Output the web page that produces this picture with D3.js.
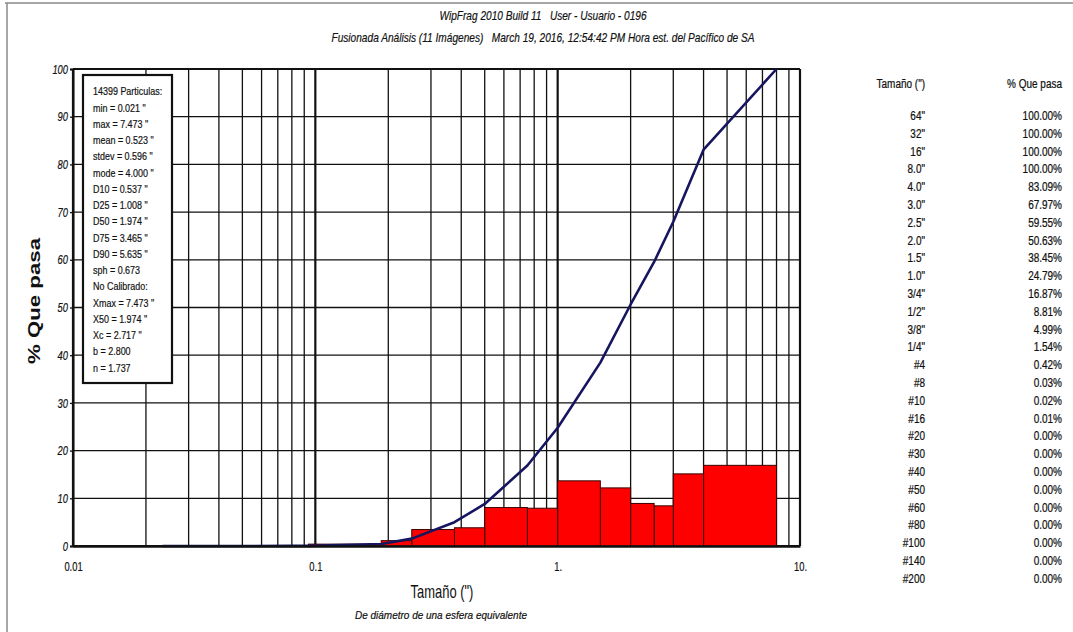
<!DOCTYPE html>
<html>
<head>
<meta charset="utf-8">
<script src="https://cdn.jsdelivr.net/npm/d3@7"></script>
<style>
  body { margin: 0; background: #fff; }
  svg { display: block; }
  text { white-space: pre; }
</style>
</head>
<body>
<svg id="chart" width="1073" height="632"></svg>
<script>
// Sieve sizes (inches) with their cumulative percent passing
const sieveLabels = ['64"', '32"', '16"', '8.0"', '4.0"', '3.0"', '2.5"', '2.0"', '1.5"', '1.0"',
  '3/4"', '1/2"', '3/8"', '1/4"', '#4', '#8', '#10', '#16', '#20', '#30', '#40', '#50', '#60',
  '#80', '#100', '#140', '#200'];
const sieveSizes = [64, 32, 16, 8, 4, 3, 2.5, 2, 1.5, 1, 0.75, 0.5, 0.375, 0.25, 0.187,
  0.0937, 0.0787, 0.0469, 0.0331, 0.0234, 0.0165, 0.0117, 0.0098, 0.0070, 0.0059, 0.0041, 0.0029];
const percentPassing = [100, 100, 100, 100, 83.09, 67.97, 59.55, 50.63, 38.45, 24.79, 16.87,
  8.81, 4.99, 1.54, 0.42, 0.03, 0.02, 0.01, 0, 0, 0, 0, 0, 0, 0, 0, 0];

// Smallest measured particle (inches); curve and histogram start above it
const minParticle = 0.021;

const statsLines = ['14399 Particulas:', 'min = 0.021 "', 'max = 7.473 "', 'mean = 0.523 "',
  'stdev = 0.596 "', 'mode = 4.000 "', 'D10 = 0.537 "', 'D25 = 1.008 "', 'D50 = 1.974 "',
  'D75 = 3.465 "', 'D90 = 5.635 "', 'sph = 0.673', 'No Calibrado:', 'Xmax = 7.473 "',
  'X50 = 1.974 "', 'Xc = 2.717 "', 'b = 2.800', 'n = 1.737'];

const titleLines = ['WipFrag 2010 Build 11   User - Usuario - 0196',
  'Fusionada Análisis (11 Imágenes)   March 19, 2016, 12:54:42 PM Hora est. del Pacífico de SA'];

const xTickValues = [0.01, 0.1, 1, 10];
const xTickLabels = ['0.01', '0.1', '1.', '10.'];
const yTickValues = [0, 10, 20, 30, 40, 50, 60, 70, 80, 90, 100];

const xTitle = 'Tamaño (")';
const xSubtitle = 'De diámetro de una esfera equivalente';
const yTitle = '% Que pasa';
const tableHeaders = ['Tamaño (")', '% Que pasa'];

// ---------------------------------------------------------------
const svg = d3.select('#chart');
const FONT = '"Liberation Sans", Arial, sans-serif';
const INK = '#111';

const plot = { left: 73, right: 800, top: 69, bottom: 546 };
const x = d3.scaleLog().domain([0.01, 10]).range([plot.left, plot.right]);
const y = d3.scaleLinear().domain([0, 100]).range([plot.bottom, plot.top]);

// Condense text horizontally around its anchor point
function narrow(sel, k = 0.8) {
  sel.each(function () {
    const t = d3.select(this);
    const tx = +t.attr('x') || 0;
    t.attr('x', tx / k).attr('transform', `scale(${k},1)`);
  });
}

// Page frame
svg.append('line').attr('x1', 5).attr('x2', 1073).attr('y1', 3).attr('y2', 3)
  .attr('stroke', '#8a8a8a').attr('stroke-width', 1.5);
svg.append('line').attr('x1', 7).attr('x2', 7).attr('y1', 3).attr('y2', 632)
  .attr('stroke', '#8a8a8a').attr('stroke-width', 1.5);

// Title
const titleY = [20, 42];
const titleW = [207, 423];
titleLines.forEach((t, i) => {
  svg.append('text').attr('x', 543).attr('y', titleY[i])
    .attr('text-anchor', 'middle').attr('font-family', FONT).attr('font-style', 'italic')
    .attr('font-size', 13).attr('fill', INK).attr('stroke', INK).attr('stroke-width', 0.2)
    .attr('textLength', titleW[i]).attr('lengthAdjust', 'spacingAndGlyphs')
    .text(t);
});

// Grid: log minor lines per decade, horizontal lines every 10 %
const grid = svg.append('g');
const vLines = [];
[0.01, 0.1, 1].forEach(d => { for (let k = 1; k <= 9; k++) vLines.push(k * d); });
vLines.push(10);
grid.selectAll('line.v').data(vLines).join('line')
  .attr('x1', d => x(d)).attr('x2', d => x(d))
  .attr('y1', plot.top).attr('y2', plot.bottom)
  .attr('stroke', INK)
  .attr('stroke-width', d => (Math.abs(Math.log10(d) - Math.round(Math.log10(d))) < 1e-9 ? 2.2 : 1.3));
grid.selectAll('line.h').data(yTickValues).join('line')
  .attr('x1', plot.left).attr('x2', plot.right)
  .attr('y1', d => y(d)).attr('y2', d => y(d))
  .attr('stroke', INK).attr('stroke-width', d => (d === 0 || d === 100 ? 2 : 1.3));

// Histogram: fraction retained between consecutive sieves
const bins = [];
for (let i = 0; i < sieveSizes.length - 1; i++) {
  const hi = sieveSizes[i], lo = sieveSizes[i + 1];
  if (hi <= 10 && lo >= minParticle) {
    bins.push({ lo, hi, v: percentPassing[i] - percentPassing[i + 1] });
  }
}
svg.append('g').selectAll('rect').data(bins).join('rect')
  .attr('x', d => x(d.lo)).attr('width', d => x(d.hi) - x(d.lo))
  .attr('y', d => y(d.v)).attr('height', d => y(0) - y(d.v))
  .attr('fill', '#ff0000').attr('stroke', '#3a0000').attr('stroke-width', 1);

// Cumulative passing curve
const curvePts = sieveSizes.map((s, i) => ({ s, p: percentPassing[i] }))
  .filter(d => d.s <= 10 && d.s >= minParticle);
svg.append('path').datum(curvePts)
  .attr('d', d3.line().x(d => x(d.s)).y(d => y(d.p)))
  .attr('fill', 'none').attr('stroke', '#161660').attr('stroke-width', 2.6)
  .attr('stroke-linejoin', 'round');

// Axes
const yAxis = svg.append('g').attr('transform', `translate(${plot.left},0)`)
  .call(d3.axisLeft(y).tickValues(yTickValues).tickSize(3).tickPadding(2));
yAxis.select('.domain').attr('stroke', INK).attr('stroke-width', 2);
yAxis.selectAll('.tick line').attr('stroke', INK).attr('stroke-width', 1.3);
yAxis.selectAll('.tick text').attr('font-family', FONT).attr('font-style', 'italic')
  .attr('font-size', 13).attr('fill', INK).attr('stroke', INK).attr('stroke-width', 0.2)
  .call(narrow, 0.72);

const xAxis = svg.append('g').attr('transform', `translate(0,${plot.bottom})`)
  .call(d3.axisBottom(x).tickValues(xTickValues).tickSize(0).tickPadding(16)
    .tickFormat((d, i) => xTickLabels[i]));
xAxis.select('.domain').attr('stroke', INK).attr('stroke-width', 2.5);
xAxis.selectAll('.tick text').attr('font-family', FONT).attr('font-size', 13)
  .attr('fill', INK).attr('stroke', INK).attr('stroke-width', 0.2).call(narrow, 0.72);

// Right border
svg.append('line').attr('x1', plot.right).attr('x2', plot.right)
  .attr('y1', plot.top).attr('y2', plot.bottom).attr('stroke', INK).attr('stroke-width', 2);

// Axis titles
svg.append('text').attr('transform', 'translate(40,301) rotate(-90)')
  .attr('text-anchor', 'middle').attr('font-family', FONT).attr('font-weight', 'bold')
  .attr('font-size', 17).attr('fill', INK)
  .attr('textLength', 126).attr('lengthAdjust', 'spacingAndGlyphs').text(yTitle);

svg.append('text').attr('x', 442).attr('y', 598).attr('text-anchor', 'middle')
  .attr('font-family', FONT).attr('font-size', 17.5).attr('fill', INK)
  .text(xTitle).call(narrow, 0.74);

svg.append('text').attr('x', 441).attr('y', 619).attr('text-anchor', 'middle')
  .attr('font-family', FONT).attr('font-style', 'italic').attr('font-size', 11)
  .attr('fill', INK).attr('stroke', INK).attr('stroke-width', 0.2)
  .attr('textLength', 172).attr('lengthAdjust', 'spacingAndGlyphs')
  .text(xSubtitle);

// Statistics box
svg.append('rect').attr('x', 83).attr('y', 75).attr('width', 89).attr('height', 308)
  .attr('fill', '#fff').attr('stroke', INK).attr('stroke-width', 2.2);
svg.append('g').selectAll('text').data(statsLines).join('text')
  .attr('x', 93).attr('y', (d, i) => 95.5 + i * 16.25)
  .attr('font-family', FONT).attr('font-size', 11.5).attr('fill', INK)
  .attr('stroke', INK).attr('stroke-width', 0.2)
  .text(d => d).call(narrow, 0.78);

// Size distribution table
const table = svg.append('g').attr('font-family', FONT).attr('font-size', 13.5)
  .attr('fill', INK).attr('stroke', INK).attr('stroke-width', 0.25);
table.append('text').attr('x', 925).attr('y', 88).attr('text-anchor', 'end')
  .text(tableHeaders[0]).call(narrow, 0.74);
table.append('text').attr('x', 1062).attr('y', 88).attr('text-anchor', 'end')
  .text(tableHeaders[1]).call(narrow, 0.74);
table.selectAll('text.s').data(sieveLabels).join('text').attr('class', 's')
  .attr('x', 925).attr('y', (d, i) => 120 + i * 17.8).attr('text-anchor', 'end')
  .text(d => d).call(narrow, 0.74);
table.selectAll('text.p').data(percentPassing).join('text').attr('class', 'p')
  .attr('x', 1062).attr('y', (d, i) => 120 + i * 17.8).attr('text-anchor', 'end')
  .text(d => d.toFixed(2) + '%').call(narrow, 0.74);
</script>
</body>
</html>
